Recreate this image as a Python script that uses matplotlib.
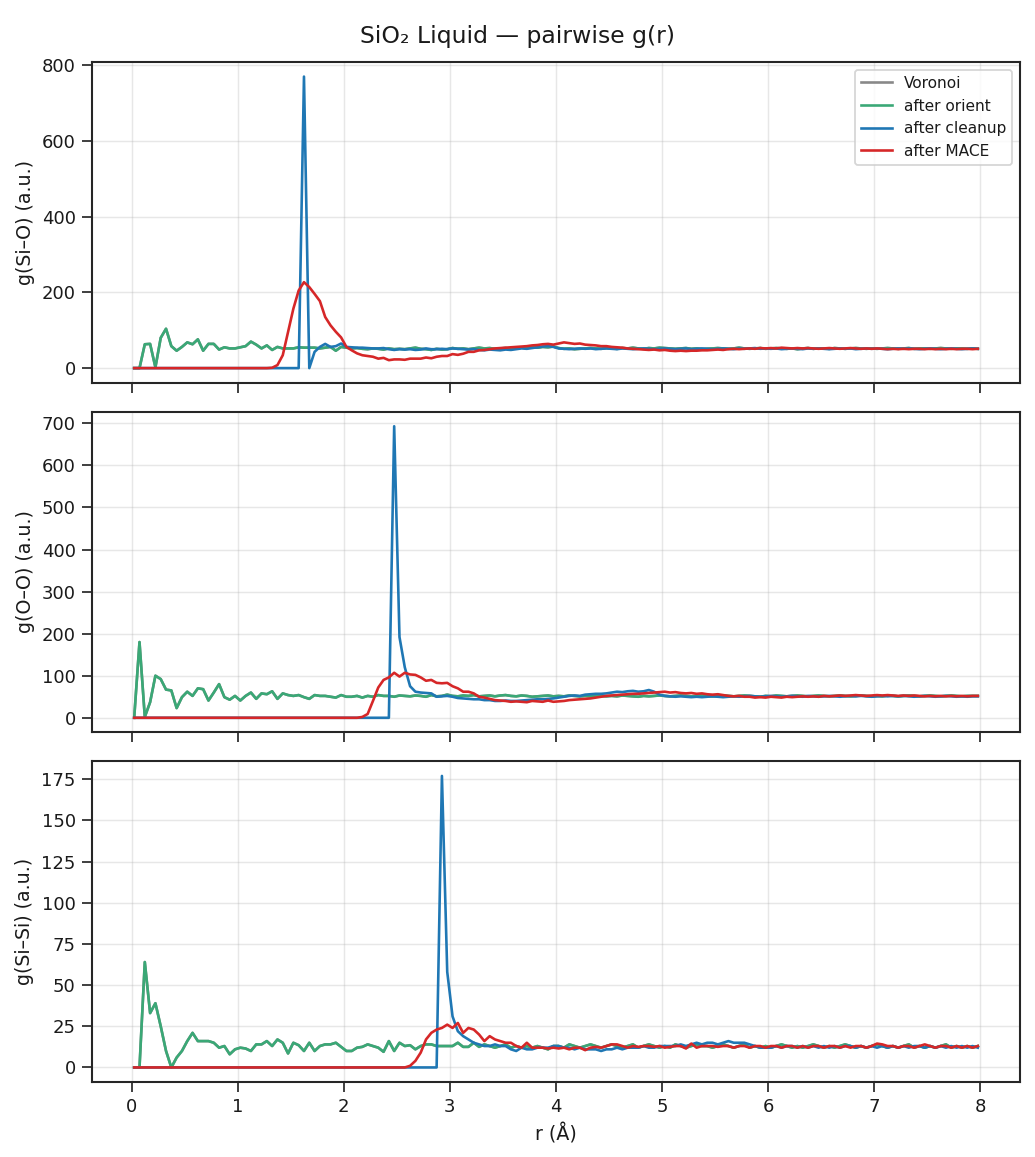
import numpy as np
import matplotlib
matplotlib.use("Agg")
import matplotlib.pyplot as plt

# r grid: bin centres (0.05 Å bins)
r = np.linspace(0.025, 7.975, 160)

# ---------------- Si-O ----------------
orient_sio = [
    0, 0, 63, 64, 2, 80, 104, 58, 46, 56,
    68, 63, 76, 46, 64, 64, 49, 55, 52, 52,
    55, 58, 70, 62, 52, 60, 48, 56, 52, 52,
    52, 55, 54, 54, 54, 52, 54, 56, 46, 56,
    54, 52, 53, 51, 50, 52, 51, 49, 52, 50,
    51, 50, 52, 54, 51, 50, 48, 51, 49, 50,
    53, 51, 52, 50, 52, 54, 52, 53, 51, 52,
    53, 51, 52, 54, 53, 55, 54, 56, 55, 57,
    53, 51, 52, 50, 51, 52, 53, 52, 51, 53,
    52, 51, 53, 52, 54, 52, 51, 53, 52, 54,
    53, 52, 51, 52, 53, 51, 52, 50, 51, 52,
    53, 52, 51, 52, 54, 52, 51, 52, 53, 51,
    52, 53, 52, 51, 52, 50, 52, 53, 51, 52,
    52, 51, 53, 52, 51, 52, 53, 52, 51, 52,
    51, 52, 53, 52, 51, 52, 53, 51, 52, 52,
    51, 52, 53, 52, 51, 52, 52, 51, 52, 51,
]
voronoi_sio = orient_sio
cleanup_sio = [
    0, 0, 0, 0, 0, 0, 0, 0, 0, 0,
    0, 0, 0, 0, 0, 0, 0, 0, 0, 0,
    0, 0, 0, 0, 0, 0, 0, 0, 0, 0,
    0, 0, 770, 0, 43, 56, 64, 56, 58, 65,
    56, 55, 54, 54, 53, 52, 52, 53, 50, 48,
    50, 49, 50, 48, 49, 52, 50, 50, 51, 50,
    52, 51, 50, 49, 50, 48, 47, 49, 48, 47,
    49, 48, 50, 52, 51, 53, 55, 57, 58, 56,
    52, 51, 50, 51, 52, 51, 52, 50, 51, 52,
    51, 50, 52, 51, 50, 51, 52, 51, 50, 51,
    52, 51, 50, 51, 52, 50, 51, 52, 51, 50,
    51, 52, 51, 50, 52, 51, 52, 53, 51, 52,
    51, 52, 50, 51, 52, 51, 50, 52, 51, 52,
    51, 50, 51, 52, 51, 52, 50, 51, 52, 51,
    52, 51, 50, 51, 52, 51, 52, 51, 50, 51,
    52, 51, 50, 51, 52, 51, 50, 51, 52, 51,
]
mace_sio = [
    0, 0, 0, 0, 0, 0, 0, 0, 0, 0,
    0, 0, 0, 0, 0, 0, 0, 0, 0, 0,
    0, 0, 0, 0, 0, 0, 1, 8, 34, 96,
    157, 205, 227, 214, 196, 177, 135, 113, 96, 81,
    56, 47, 39, 34, 32, 30, 25, 27, 21, 23,
    23, 22, 25, 25, 25, 28, 26, 30, 32, 32,
    37, 35, 38, 43, 43, 47, 48, 50, 52, 53,
    54, 55, 56, 57, 58, 60, 61, 63, 64, 62,
    65, 68, 66, 64, 65, 62, 61, 60, 58, 58,
    56, 55, 54, 52, 51, 50, 49, 48, 49, 47,
    48, 46, 45, 46, 45, 46, 46, 47, 47, 48,
    49, 48, 50, 51, 50, 51, 52, 51, 53, 52,
    53, 52, 54, 53, 52, 53, 52, 53, 52, 51,
    52, 53, 52, 51, 52, 53, 52, 51, 52, 51,
    52, 51, 50, 51, 50, 51, 50, 51, 51, 50,
    51, 50, 51, 50, 51, 50, 51, 51, 50, 51,
]

# ---------------- O-O ----------------
orient_oo = [
    0, 180, 2, 37, 100, 92, 67, 65, 23, 49,
    62, 52, 70, 68, 41, 60, 80, 49, 43, 52,
    41, 52, 60, 45, 58, 56, 63, 45, 58, 54,
    52, 54, 49, 45, 54, 52, 52, 50, 48, 54,
    50, 50, 52, 48, 52, 50, 54, 52, 52, 50,
    53, 52, 51, 53, 52, 50, 54, 51, 52, 55,
    52, 51, 53, 52, 54, 51, 52, 53, 51, 53,
    54, 52, 51, 53, 52, 50, 51, 52, 53, 51,
    52, 51, 53, 52, 51, 52, 51, 53, 52, 51,
    52, 51, 53, 52, 51, 50, 52, 51, 52, 53,
    52, 51, 52, 53, 52, 51, 52, 53, 52, 51,
    52, 53, 52, 51, 52, 53, 52, 51, 50, 52,
    51, 53, 52, 51, 52, 53, 52, 51, 52, 53,
    52, 51, 52, 53, 52, 51, 52, 53, 52, 51,
    52, 51, 53, 52, 51, 52, 53, 52, 51, 52,
    53, 52, 51, 52, 53, 52, 51, 52, 52, 52,
]
voronoi_oo = orient_oo
cleanup_oo = [
    0, 0, 0, 0, 0, 0, 0, 0, 0, 0,
    0, 0, 0, 0, 0, 0, 0, 0, 0, 0,
    0, 0, 0, 0, 0, 0, 0, 0, 0, 0,
    0, 0, 0, 0, 0, 0, 0, 0, 0, 0,
    0, 0, 0, 0, 0, 0, 0, 0, 0, 693,
    192, 120, 75, 62, 60, 59, 58, 50, 51, 52,
    50, 47, 46, 45, 44, 44, 42, 42, 40, 40,
    41, 40, 40, 41, 42, 43, 44, 44, 45, 46,
    48, 50, 52, 53, 52, 55, 56, 57, 57, 58,
    60, 62, 61, 63, 64, 62, 63, 66, 62, 55,
    52, 51, 50, 51, 50, 49, 50, 49, 50, 51,
    50, 49, 50, 51, 50, 51, 52, 51, 50, 51,
    52, 51, 50, 51, 52, 51, 50, 52, 51, 50,
    51, 52, 51, 50, 51, 52, 51, 52, 51, 50,
    51, 52, 51, 52, 51, 52, 51, 50, 51, 52,
    51, 50, 51, 52, 51, 50, 51, 50, 51, 51,
]
mace_oo = [
    0, 0, 0, 0, 0, 0, 0, 0, 0, 0,
    0, 0, 0, 0, 0, 0, 0, 0, 0, 0,
    0, 0, 0, 0, 0, 0, 0, 0, 0, 0,
    0, 0, 0, 0, 0, 0, 0, 0, 0, 0,
    0, 0, 0, 2, 9, 40, 72, 90, 96, 107,
    98, 107, 103, 102, 96, 88, 90, 83, 82, 83,
    75, 70, 62, 62, 58, 50, 48, 45, 42, 41,
    40, 38, 39, 38, 37, 40, 39, 38, 41, 38,
    39, 40, 42, 43, 44, 45, 46, 48, 50, 52,
    53, 54, 55, 56, 57, 57, 58, 59, 60, 61,
    62, 60, 61, 59, 58, 59, 57, 58, 56, 55,
    56, 54, 52, 51, 52, 50, 50, 48, 49, 48,
    50, 49, 48, 50, 49, 50, 51, 50, 51, 50,
    52, 51, 52, 53, 52, 53, 54, 53, 52, 53,
    54, 53, 54, 53, 52, 53, 52, 53, 52, 51,
    52, 51, 52, 51, 52, 51, 52, 51, 52, 52,
]

# ---------------- Si-Si ----------------
orient_sisi = [
    0, 0, 64, 33, 39, 25, 10, 0, 6, 10,
    16, 21, 16, 16, 16, 15, 12, 13, 8, 11,
    12, 11.5, 10, 14, 14, 16, 13, 17, 15, 8.5,
    15, 13.5, 10, 15, 10, 13, 14, 14, 15, 12.5,
    10, 10, 12, 12.5, 14, 13, 12, 9.5, 16, 10,
    15, 13, 13.5, 11, 13, 14, 14, 13, 13, 13,
    13, 15, 12.5, 12.5, 15, 12.5, 14, 13, 12, 13,
    14, 12, 13, 12, 13, 12, 13, 12, 11, 13,
    13, 12, 14, 13, 12, 13, 14, 13, 12, 13,
    14, 13, 12, 13, 14, 12, 13, 14, 13, 12,
    13, 12, 14, 13, 12, 13, 14, 13, 13, 12,
    13, 14, 13, 12, 13, 14, 12, 13, 12, 13,
    12, 13, 14, 13, 12, 13, 12, 13, 14, 13,
    12, 13, 12, 13, 14, 13, 12, 13, 12, 13,
    14, 13, 12, 13, 12, 13, 14, 12, 13, 12,
    13, 12, 13, 14, 12, 13, 12, 13, 12, 13,
]
voronoi_sisi = orient_sisi
cleanup_sisi = [
    0, 0, 0, 0, 0, 0, 0, 0, 0, 0,
    0, 0, 0, 0, 0, 0, 0, 0, 0, 0,
    0, 0, 0, 0, 0, 0, 0, 0, 0, 0,
    0, 0, 0, 0, 0, 0, 0, 0, 0, 0,
    0, 0, 0, 0, 0, 0, 0, 0, 0, 0,
    0, 0, 0, 0, 0, 0, 0, 0, 177, 58,
    31, 22, 19, 17, 15, 14, 13, 13, 14, 13,
    13, 11, 10, 12, 11, 11, 12, 12, 12, 13,
    13, 12, 12, 11, 12, 11, 11, 11, 10, 11,
    11, 12, 11, 12, 12, 12, 13, 12, 12, 13,
    13, 13, 13, 14, 13, 14, 15, 14, 15, 15,
    14, 15, 16, 15, 15, 15, 14, 13, 12, 12,
    12, 13, 12, 13, 13, 12, 13, 12, 13, 12,
    13, 12, 13, 12, 13, 13, 12, 13, 12, 13,
    12, 13, 12, 13, 12, 13, 12, 13, 13, 12,
    13, 12, 13, 12, 13, 12, 13, 12, 13, 12,
]
mace_sisi = [
    0, 0, 0, 0, 0, 0, 0, 0, 0, 0,
    0, 0, 0, 0, 0, 0, 0, 0, 0, 0,
    0, 0, 0, 0, 0, 0, 0, 0, 0, 0,
    0, 0, 0, 0, 0, 0, 0, 0, 0, 0,
    0, 0, 0, 0, 0, 0, 0, 0, 0, 0,
    0, 0, 1, 4, 9, 17, 21, 23, 24, 26,
    24, 27, 21, 24, 23, 20, 16, 19, 17, 16,
    15, 15, 13, 12, 15, 12, 12, 12, 11.5, 12,
    11.5, 12, 11, 12, 12, 10.5, 12, 12.5, 12, 13,
    14, 14, 13, 12, 13, 12.5, 13, 13, 12.5, 13,
    12, 12.5, 13, 13, 11.5, 14.5, 12, 13, 13, 13,
    12.5, 13, 13, 12, 13, 13, 12, 13, 13, 12,
    13, 13, 12, 13, 13, 12, 13, 12, 13, 13,
    12, 13, 13, 12, 13, 12, 13, 13, 12, 13,
    14.5, 14, 13, 13, 12, 13, 13, 12, 13, 14,
    13, 12, 13, 13, 12, 13, 12, 13, 12, 13,
]

series_labels = ["Voronoi", "after orient", "after cleanup", "after MACE"]
series_colors = ["#888888", "#3aa876", "#1f77b4", "#d62728"]
ylabels = ["g(Si\u2013O) (a.u.)", "g(O\u2013O) (a.u.)", "g(Si\u2013Si) (a.u.)"]
panels = [
    [voronoi_sio, orient_sio, cleanup_sio, mace_sio],
    [voronoi_oo, orient_oo, cleanup_oo, mace_oo],
    [voronoi_sisi, orient_sisi, cleanup_sisi, mace_sisi],
]

plt.rcParams.update({
    "axes.edgecolor": "#262626",
    "axes.linewidth": 1.15,
    "xtick.color": "#262626",
    "ytick.color": "#262626",
    "xtick.major.size": 5.5,
    "ytick.major.size": 5.5,
    "xtick.major.width": 0.95,
    "ytick.major.width": 0.95,
    "text.color": "#1a1a1a",
    "axes.labelcolor": "#1a1a1a",
})

DPI = 130
fig, axes = plt.subplots(3, 1, sharex=True, figsize=(1035 / DPI, 1157 / DPI), dpi=DPI)
fig.subplots_adjust(left=0.0889, right=0.9855, top=0.9464, bottom=0.0648, hspace=0.0904)

for ax, data, yl in zip(axes, panels, ylabels):
    for vals, lab, col in zip(data, series_labels, series_colors):
        ax.plot(r, vals, color=col, lw=1.45, label=lab)
    ax.set_ylabel(yl, fontsize=10.5)
    ax.grid(True, alpha=0.3)
    ax.tick_params(labelsize=10, labelcolor="#1a1a1a")

axes[0].legend(loc="upper right", fontsize=8.5)
axes[2].set_xlabel("r (\u00c5)", fontsize=10.5)
fig.suptitle("SiO\u2082 Liquid \u2014 pairwise g(r)", fontsize=13, y=0.978)

fig.savefig("out.png", dpi=DPI)
